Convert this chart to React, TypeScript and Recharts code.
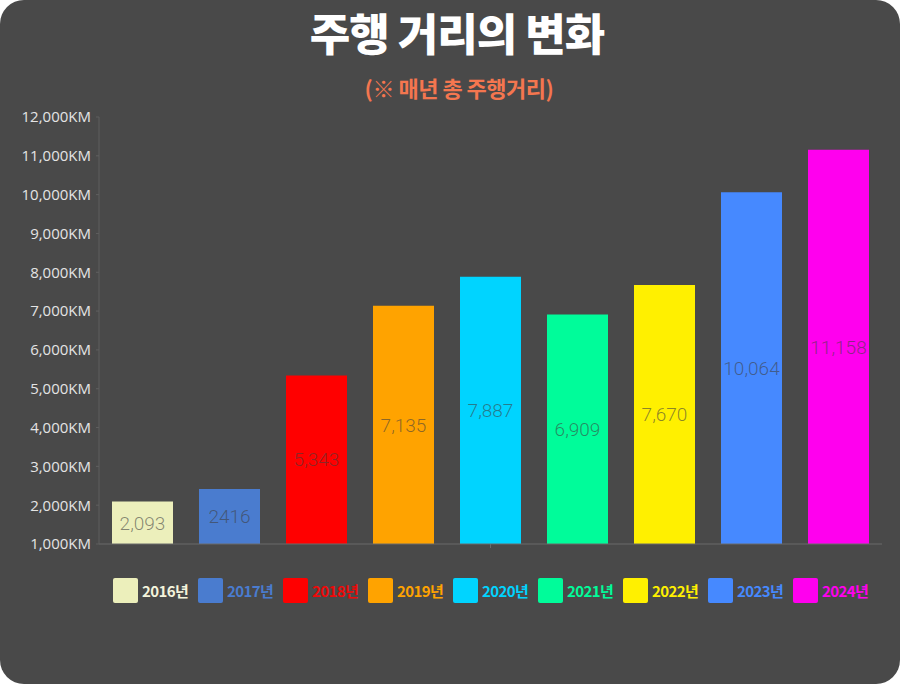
import React from 'react';
import { BarChart, Bar, XAxis, YAxis } from 'recharts';

const years = ['2016년', '2017년', '2018년', '2019년', '2020년', '2021년', '2022년', '2023년', '2024년'];
const distances = [2093, 2416, 5343, 7135, 7887, 6909, 7670, 10064, 11158];
const valueLabels = ['2,093', '2416', '5,343', '7,135', '7,887', '6,909', '7,670', '10,064', '11,158'];
const barColors = ['#ecefbb', '#4a7ccf', '#ff0000', '#ffa300', '#00d4ff', '#00fc9a', '#fff000', '#4689ff', '#ff00ee'];
const legendTextColors = ['#f4f4dc', '#4a7ccf', '#ee0a0a', '#ffa300', '#00d4ff', '#00fc9a', '#fff000', '#4689ff', '#ff00ee'];
const yTicks = [1000, 2000, 3000, 4000, 5000, 6000, 7000, 8000, 9000, 10000, 11000, 12000];

const PANEL = '#494949';
const KR_FONT = '"Noto Sans CJK KR", "Noto Sans", sans-serif';

// one category, one series per year (that is how the original is laid out)
const row: Record<string, number | string> = { name: '' };
years.forEach((y, i) => {
    row[y] = distances[i];
});
const chartData = [row];

function YearLegend() {
    return (
        <div
            style={{
                position: 'absolute',
                left: 99,
                top: 578,
                width: 783,
                display: 'flex',
                justifyContent: 'center',
                gap: 10,
                fontFamily: KR_FONT,
            }}
        >
            {years.map((y, i) => (
                <div key={y} style={{ display: 'flex', alignItems: 'center', gap: 4 }}>
                    <div style={{ width: 25, height: 25, borderRadius: 2, background: barColors[i] }} />
                    <span
                        style={{
                            width: 46,
                            color: legendTextColors[i],
                            fontSize: 15,
                            fontWeight: 700,
                            letterSpacing: -0.6,
                            whiteSpace: 'nowrap',
                        }}
                    >
                        {y}
                    </span>
                </div>
            ))}
        </div>
    );
}

export default function App() {
    return (
        <div style={{ position: 'absolute', left: 0, top: 0, width: 900, height: 684, background: '#ffffff' }}>
            <div
                style={{
                    position: 'absolute',
                    left: 0,
                    top: 0,
                    width: 900,
                    height: 684,
                    borderRadius: 24,
                    background: PANEL,
                }}
            />
            <div
                style={{
                    position: 'absolute',
                    left: 0,
                    top: 0,
                    width: 900,
                    boxSizing: 'border-box',
                    paddingLeft: 14,
                    textAlign: 'center',
                    color: '#ffffff',
                    fontFamily: KR_FONT,
                    fontWeight: 900,
                    fontSize: 44,
                    lineHeight: 'normal',
                    letterSpacing: -1,
                }}
            >
                주행 거리의 변화
            </div>
            <div
                style={{
                    position: 'absolute',
                    left: 0,
                    top: 71,
                    width: 900,
                    boxSizing: 'border-box',
                    paddingLeft: 18,
                    textAlign: 'center',
                    color: '#f4764f',
                    fontFamily: KR_FONT,
                    fontWeight: 700,
                    fontSize: 22,
                    lineHeight: '32px',
                    letterSpacing: -0.5,
                }}
            >
                (※ 매년 총 주행거리)
            </div>

            <div style={{ position: 'absolute', left: 0, top: 0 }}>
                <BarChart
                    width={900}
                    height={684}
                    data={chartData}
                    margin={{ top: 117, right: 18, left: 0, bottom: 110 }}
                    barSize={61}
                    barGap={26}
                >
                    <XAxis
                        dataKey="name"
                        height={30}
                        axisLine={{ stroke: '#6a6a6a' }}
                        tickLine={{ stroke: '#6a6a6a' }}
                        tickSize={4}
                        tick={{ fill: 'transparent' }}
                    />
                    <YAxis
                        width={99}
                        domain={[1000, 12000]}
                        ticks={yTicks}
                        interval={0}
                        axisLine={{ stroke: '#5f5f5f' }}
                        tickLine={{ stroke: '#5f5f5f' }}
                        tickSize={3}
                        tickMargin={5}
                        tickFormatter={(v: number) => v.toLocaleString('en-US') + 'KM'}
                        tick={{ fill: '#e4e4e4', fontSize: 15, fontFamily: '"Open Sans", sans-serif' }}
                    />
                    {years.map((y, i) => (
                        <Bar
                            key={y}
                            dataKey={y}
                            fill={barColors[i]}
                            isAnimationActive={false}
                            label={{
                                position: 'center',
                                fill: '#3f3f3f',
                                fillOpacity: 0.6,
                                fontSize: 19,
                                fontFamily: 'Roboto, sans-serif',
                                fontWeight: 300,
                                formatter: () => valueLabels[i],
                            }}
                        />
                    ))}
                </BarChart>
            </div>

            <YearLegend />
        </div>
    );
}
